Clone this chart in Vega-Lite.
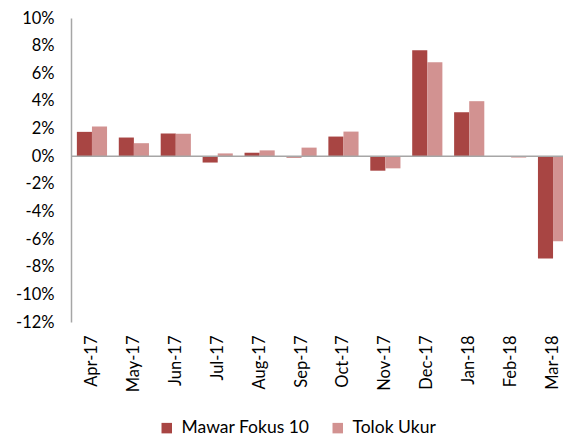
{
  "$schema": "https://vega.github.io/schema/vega-lite/v6.json",
  "width": 503,
  "height": 304,
  "autosize": {"type": "none"},
  "padding": {"left": 71, "top": 18, "right": 0, "bottom": 115},
  "background": "white",
  "config": {"view": {"stroke": null}, "font": "Lato", "axis": {"labelOverlap": false}},
  "data": {"values": [
    {"month": "Apr-17", "series": "Mawar Fokus 10", "value": 0.0176},
    {"month": "Apr-17", "series": "Tolok Ukur", "value": 0.0215},
    {"month": "May-17", "series": "Mawar Fokus 10", "value": 0.0135},
    {"month": "May-17", "series": "Tolok Ukur", "value": 0.0094},
    {"month": "Jun-17", "series": "Mawar Fokus 10", "value": 0.0164},
    {"month": "Jun-17", "series": "Tolok Ukur", "value": 0.0162},
    {"month": "Jul-17", "series": "Mawar Fokus 10", "value": -0.0046},
    {"month": "Jul-17", "series": "Tolok Ukur", "value": 0.002},
    {"month": "Aug-17", "series": "Mawar Fokus 10", "value": 0.0025},
    {"month": "Aug-17", "series": "Tolok Ukur", "value": 0.0042},
    {"month": "Sep-17", "series": "Mawar Fokus 10", "value": -0.001},
    {"month": "Sep-17", "series": "Tolok Ukur", "value": 0.0062},
    {"month": "Oct-17", "series": "Mawar Fokus 10", "value": 0.0142},
    {"month": "Oct-17", "series": "Tolok Ukur", "value": 0.0178},
    {"month": "Nov-17", "series": "Mawar Fokus 10", "value": -0.0105},
    {"month": "Nov-17", "series": "Tolok Ukur", "value": -0.0088},
    {"month": "Dec-17", "series": "Mawar Fokus 10", "value": 0.0766},
    {"month": "Dec-17", "series": "Tolok Ukur", "value": 0.068},
    {"month": "Jan-18", "series": "Mawar Fokus 10", "value": 0.0318},
    {"month": "Jan-18", "series": "Tolok Ukur", "value": 0.0398},
    {"month": "Feb-18", "series": "Mawar Fokus 10", "value": -0.0005},
    {"month": "Feb-18", "series": "Tolok Ukur", "value": -0.001},
    {"month": "Mar-18", "series": "Mawar Fokus 10", "value": -0.074},
    {"month": "Mar-18", "series": "Tolok Ukur", "value": -0.0616}
  ]},
  "encoding": {
    "y": {
      "field": "value", "type": "quantitative",
      "scale": {"domain": [-0.12, 0.1], "nice": false, "zero": false},
      "axis": {
        "title": null, "values": [-0.12, -0.1, -0.08, -0.06, -0.04, -0.02, 0, 0.02, 0.04, 0.06, 0.08, 0.1],
        "labelExpr": "replace(format(datum.value, '.0%'), '\u2212', '-')",
        "grid": false, "ticks": false, "domainColor": "#A6A6A6", "domainWidth": 1.5,
        "labelPadding": 17, "labelFontSize": 16.5, "labelColor": "#000000", "labelFont": "Lato",
        "labelOverlap": false, "labelBound": false, "labelFlush": false
      }
    }
  },
  "layer": [
    {
      "mark": {"type": "bar"},
      "encoding": {
        "x": {
          "field": "month", "type": "nominal", "sort": null,
          "scale": {"paddingInner": 0.28, "paddingOuter": 0.14},
          "axis": {
            "title": null, "domain": false, "ticks": false,
            "labelAngle": -90, "labelAlign": "right", "labelBaseline": "middle",
            "labelPadding": 13, "labelFontSize": 16.5, "labelColor": "#000000",
            "labelFont": "Lato", "labelOverlap": false, "labelBound": false
          }
        },
        "xOffset": {"field": "series", "type": "nominal", "scale": {"paddingInner": 0}},
        "color": {
          "field": "series", "type": "nominal",
          "scale": {"domain": ["Mawar Fokus 10", "Tolok Ukur"], "range": ["#A84543", "#D29291"]},
          "legend": {
            "title": null, "orient": "none", "direction": "horizontal",
            "legendX": 87, "legendY": 401,
            "symbolType": "square", "symbolSize": 110, "symbolStrokeWidth": 0,
            "labelFontSize": 17.5, "labelColor": "#000000", "labelFont": "Lato",
            "columnPadding": 19, "labelOffset": 6, "labelLimit": 300
          }
        }
      }
    },
    {
      "mark": {"type": "rule", "color": "#A6A6A6", "strokeWidth": 1.5},
      "data": {"values": [{"value": 0}]},
      "encoding": {}
    }
  ]
}
